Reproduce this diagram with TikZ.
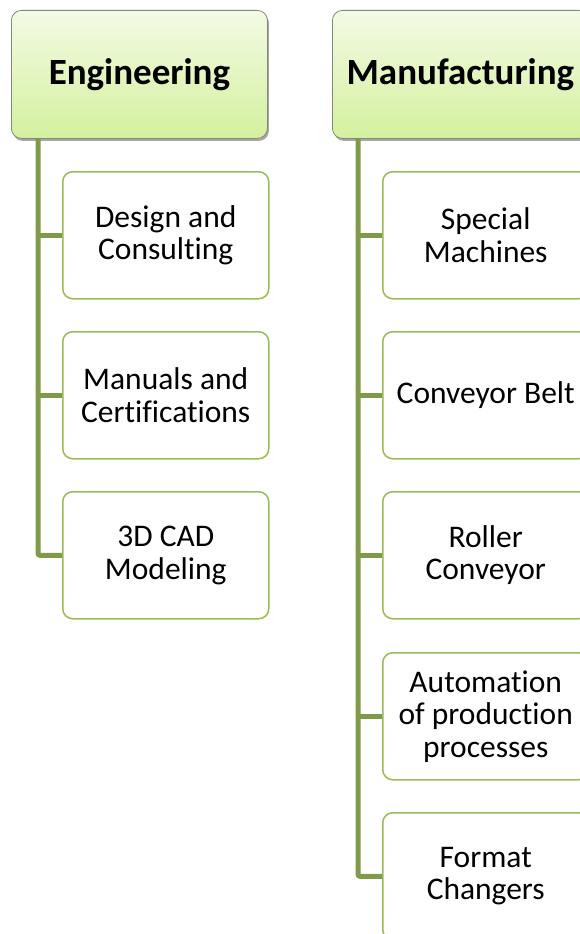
\documentclass[tikz,border=0pt]{standalone}
\usepackage{fontspec}
\setmainfont{Carlito}[Ligatures=NoCommon]
\usetikzlibrary{shadows}
\definecolor{connc}{HTML}{7F9A48}
\definecolor{childc}{HTML}{9BBB59}
\definecolor{hdtop}{HTML}{F3FBE4}
\definecolor{hdbot}{HTML}{D4F09E}
\definecolor{hdline}{HTML}{7F8A78}
\begin{document}
\begin{tikzpicture}[x=1pt,y=-1pt,
  header/.style={draw=hdline, line width=0.8pt, rounded corners=10pt,
    top color=hdtop, bottom color=hdbot,
    drop shadow={shadow xshift=1.5pt, shadow yshift=-2.5pt, opacity=0.35, fill=black},
    minimum width=256pt, minimum height=128pt, inner sep=0pt, anchor=north west,
    font=\fontsize{37}{40}\selectfont\bfseries},
  child/.style={draw=childc, line width=1.5pt, rounded corners=10pt, fill=white,
    minimum width=206pt, minimum height=127pt, inner sep=0pt, anchor=north west,
    align=center, font=\fontsize{31.5}{32.5}\selectfont},
  connector/.style={draw=connc, line width=5pt}]
\useasboundingbox (0,0) rectangle (580,934);
\clip (0,0) rectangle (580,934);
% Engineering
\node[header] (eng) at (11,10) {Engineering};
\node[child] (e1) at (62,171) {Design and\\Consulting};
\node[child] (e2) at (62,331) {Manuals and\\Certifications};
\node[child] (e3) at (62,491) {3D CAD\\Modeling};
\coordinate (es) at ([xshift=27pt]eng.south west);
\draw[connector, rounded corners=2pt] (es) |- (e3.west);
\draw[connector] (e1.west -| es) -- (e1.west);
\draw[connector] (e2.west -| es) -- (e2.west);
% Manufacturing
\node[header] (man) at (332,10) {Manufacturing};
\node[child] (m1) at (382,171) {Special\\Machines};
\node[child] (m2) at (382,331) {Conveyor Belt};
\node[child] (m3) at (382,491) {Roller\\Conveyor};
\node[child] (m4) at (382,652) {Automation\\of production\\processes};
\node[child] (m5) at (382,812) {Format\\Changers};
\coordinate (ms) at ([xshift=26pt]man.south west);
\draw[connector, rounded corners=2pt] (ms) |- (m5.west);
\draw[connector] (m1.west -| ms) -- (m1.west);
\draw[connector] (m2.west -| ms) -- (m2.west);
\draw[connector] (m3.west -| ms) -- (m3.west);
\draw[connector] (m4.west -| ms) -- (m4.west);
\end{tikzpicture}
\end{document}
